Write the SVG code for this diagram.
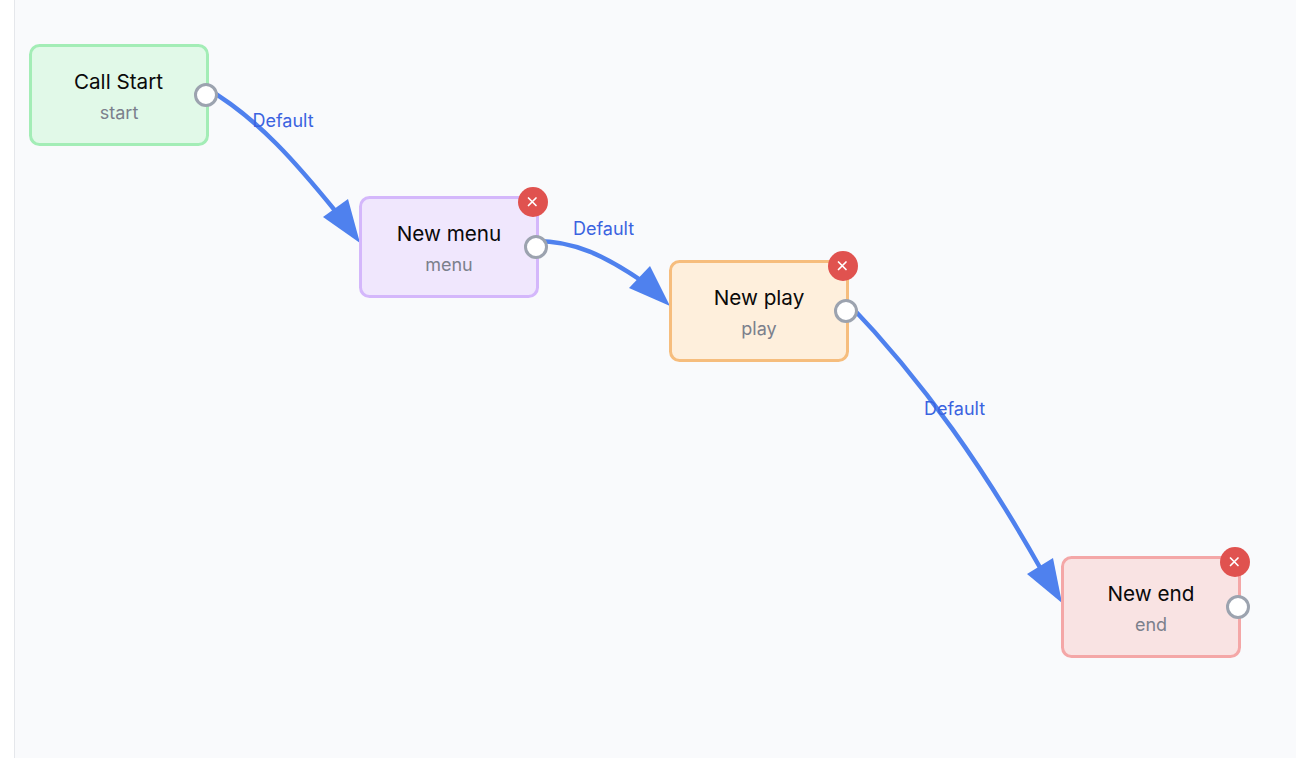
<svg xmlns="http://www.w3.org/2000/svg" width="1296" height="758" viewBox="0 0 1296 758">
<style>
.box{stroke-width:3}
.title{font:400 20.700px Inter,"Liberation Sans",sans-serif;fill:#0a0a0a;text-anchor:middle}
.sub{font:400 18px Inter,"Liberation Sans",sans-serif;fill:#7b808c;text-anchor:middle}
.lbl{font:400 18px Inter,"Liberation Sans",sans-serif;fill:#3b63e0;text-anchor:middle}
.edge{fill:none;stroke:#4f81ee;stroke-width:4.500}
.head{fill:#4f81ee}
.port{fill:#fff;stroke:#9ca3af;stroke-width:3}
.del{fill:#e0524f}
.x{stroke:#fff;stroke-width:1.700;stroke-linecap:round}
</style>
<rect width="1296" height="758" fill="#fff"/>
<rect x="15" width="1281" height="758" fill="#f9fafc"/>
<line x1="14.500" y1="0" x2="14.500" y2="758" stroke="#e5e7eb"/>
<g id="connectors">
<path class="edge" d="M206 88C258 118 298 165 337 213"/>
<polygon class="head" points="360,243 323,217 348,199"/>
<path class="edge" d="M536 241C575 241 605 256 642 281"/>
<polygon class="head" points="670,306 629,288 650,266"/>
<path class="edge" d="M846 301C925 383 985 470 1042 571"/>
<polygon class="head" points="1062,603 1027,574 1053,558"/>
<text class="lbl" x="283" y="126.500">Default</text>
<text class="lbl" x="603.500" y="235">Default</text>
<text class="lbl" x="954.500" y="415">Default</text>
</g>
<g id="node-start">
<rect class="box" x="30.500" y="45.500" width="177" height="99" rx="9" fill="#e1f9e8" stroke="#a3edb6"/>
<text class="title" x="118.500" y="88.500">Call Start</text>
<text class="sub" x="119" y="119">start</text>
<circle class="port" cx="206" cy="95" r="10.500"/>
</g>
<g id="node-menu">
<rect class="box" x="360.500" y="197.500" width="177" height="99" rx="9" fill="#f0e7fd" stroke="#d4b7fb"/>
<text class="title" x="449" y="240.500">New menu</text>
<text class="sub" x="449" y="271">menu</text>
<circle class="port" cx="536" cy="247" r="10.500"/>
<circle class="del" cx="533" cy="202" r="15"/>
<path class="x" d="M528.500 198L536 205.500M536 198L528.500 205.500"/>
</g>
<g id="node-play">
<rect class="box" x="670.500" y="261.500" width="177" height="99" rx="9" fill="#feefdc" stroke="#f6bd7d"/>
<text class="title" x="759" y="304.500">New play</text>
<text class="sub" x="759" y="335">play</text>
<circle class="port" cx="846" cy="311" r="10.500"/>
<circle class="del" cx="843" cy="266" r="15"/>
<path class="x" d="M838.500 262L846 269.500M846 262L838.500 269.500"/>
</g>
<g id="node-end">
<rect class="box" x="1062.500" y="557.500" width="177" height="99" rx="9" fill="#f9e3e3" stroke="#f4a7a7"/>
<text class="title" x="1151" y="600.500">New end</text>
<text class="sub" x="1151" y="631">end</text>
<circle class="port" cx="1238" cy="607" r="10.500"/>
<circle class="del" cx="1235" cy="562" r="15"/>
<path class="x" d="M1230.500 558L1238 565.500M1238 558L1230.500 565.500"/>
</g>
</svg>
